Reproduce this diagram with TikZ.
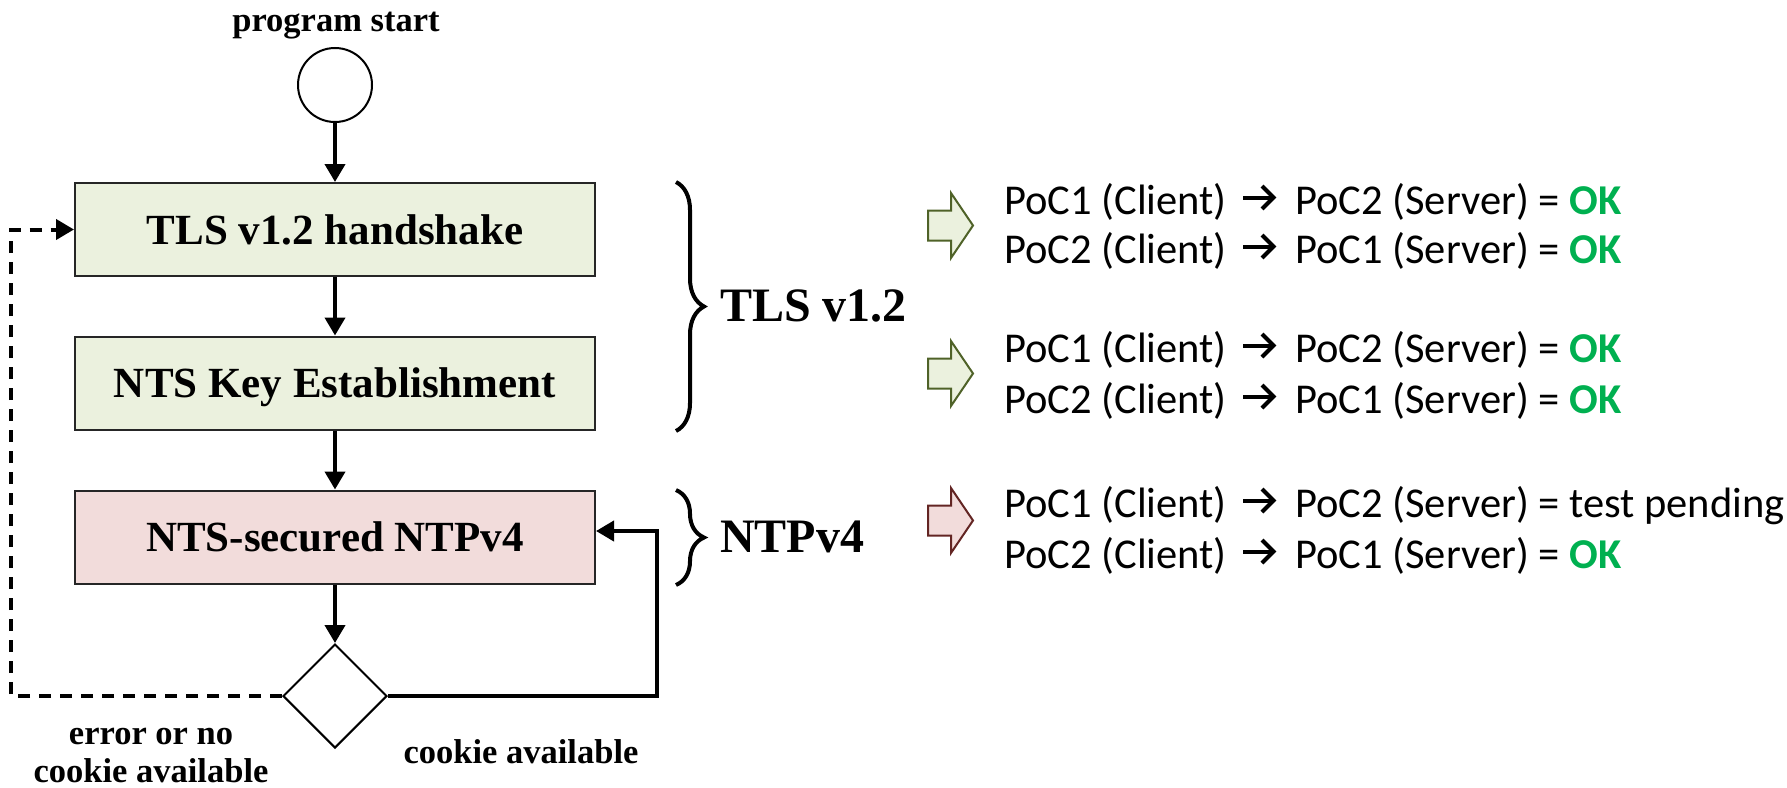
\documentclass[tikz,border=0pt]{standalone}
\usepackage{fontspec}
\setmainfont{Liberation Serif}
\newfontfamily\calfont{Carlito}
\usetikzlibrary{arrows.meta,shapes.geometric,decorations.pathreplacing}
\definecolor{boxgreen}{HTML}{EBF1DE}
\definecolor{boxred}{HTML}{F2DCDB}
\definecolor{arrgreen}{HTML}{4F6228}
\definecolor{arrred}{HTML}{632523}
\definecolor{okgreen}{HTML}{00B050}
\newcommand\myok{\textcolor{okgreen}{\bfseries OK}}
\newcommand\myresline[4]{%
  \node[res] (#1a) at (1004,#2) {#3};
  \draw[txtarrow] ([xshift=16pt,yshift=16.5pt]#1a.base east) -- ++(30,0);
  \draw[txtarrow] ([xshift=35pt,yshift=28pt]#1a.base east) -- ++(11.5,11.5) -- ++(-11.5,11.5);
  \node[res] (#1b) at ([xshift=68pt]#1a.base east) {#4};}
\newcommand\myblockarrow[3]{\draw[line width=2pt,draw=#2,fill=#3,line join=miter] (928,#1-15) -- (951,#1-15) -- (951,#1-32.5) -- (973,#1) -- (951,#1+32.5) -- (951,#1+15) -- (928,#1+15) -- cycle;}
\begin{document}
\begin{tikzpicture}[x=1pt,y=-1pt,
  proc/.style={draw=black!85,line width=2pt,minimum width=520pt,minimum height=93pt,inner sep=0pt,font=\fontsize{43}{50}\selectfont\bfseries,text depth=0pt},
  flow/.style={line width=4pt,-{Triangle[length=18pt,width=20pt]}},
  lbl/.style={font=\fontsize{34.5}{39}\selectfont\bfseries,inner sep=0pt,anchor=base},
  big/.style={font=\fontsize{48}{56}\selectfont\bfseries,inner sep=0pt,anchor=west},
  res/.style={anchor=base west,inner sep=0pt,font=\calfont\fontsize{42.5}{50}\selectfont},
  txtarrow/.style={line width=4pt,line join=miter,miter limit=10},
  brc/.style={decorate,decoration={brace,amplitude=28pt},line width=4pt},
  ]
\useasboundingbox (0,0) rectangle (1787,787);
\node[lbl] (ps) at (336,31) {program start};
\node[circle,draw,line width=2pt,minimum size=74pt,inner sep=0pt] (start) at (335,85) {};
\node[proc,fill=boxgreen] (tls) at (335,229.5) {TLS v1.2 handshake};
\node[proc,fill=boxgreen] (key) at (335,383) {NTS Key Establishment};
\node[proc,fill=boxred] (ntp) at (335,537) {NTS-secured NTPv4};
\node[diamond,draw,line width=2pt,minimum size=104pt,inner sep=0pt] (dec) at (335,696) {};
\draw[flow] (start) -- (tls);
\draw[flow] (tls) -- (key);
\draw[flow] (key) -- (ntp);
\draw[flow] (ntp) -- (dec);
\draw[flow,dash pattern=on 12pt off 9pt] (dec.west) -- ++(-271,0) |- (tls.west);
\draw[flow] (dec.east) -- ++(269,0) |- ([yshift=6pt]ntp.east);
\node[lbl] (err1) at (151,744) {error or no};
\node[lbl] (err2) at (151,782) {cookie available};
\node[lbl] (ca) at (521,763) {cookie available};
\draw[brc] (676,182) -- (676,431);
\draw[brc] (676,490) -- (676,585);
\node[big] (tlsl) at (720,306) {TLS v1.2};
\node[big] (ntpl) at (720,537) {NTPv4};
\myblockarrow{225.5}{arrgreen}{boxgreen}
\myblockarrow{373.5}{arrgreen}{boxgreen}
\myblockarrow{520.5}{arrred}{boxred}
\myresline{ra}{214}{PoC1 (Client)}{PoC2 (Server) = \myok}
\myresline{rb}{263}{PoC2 (Client)}{PoC1 (Server) = \myok}
\myresline{rc}{362}{PoC1 (Client)}{PoC2 (Server) = \myok}
\myresline{rd}{413}{PoC2 (Client)}{PoC1 (Server) = \myok}
\myresline{re}{517}{PoC1 (Client)}{PoC2 (Server) = test pending}
\myresline{rf}{568}{PoC2 (Client)}{PoC1 (Server) = \myok}
\end{tikzpicture}
\end{document}
